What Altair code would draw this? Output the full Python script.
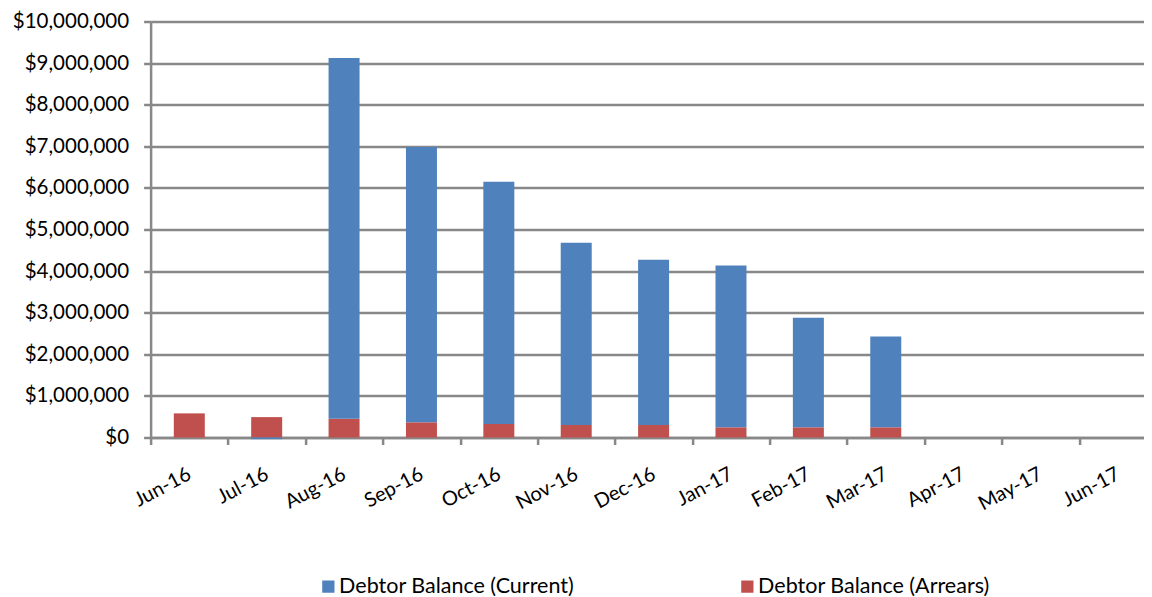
import altair as alt
import pandas as pd

months = ["Jun-16", "Jul-16", "Aug-16", "Sep-16", "Oct-16", "Nov-16", "Dec-16",
          "Jan-17", "Feb-17", "Mar-17", "Apr-17", "May-17", "Jun-17"]
current = [0, -40000, 8670000, 6620000, 5820000, 4380000, 3970000,
           3890000, 2635000, 2180000, 0, 0, 0]
arrears = [580000, 490000, 450000, 365000, 325000, 300000, 300000,
           245000, 245000, 245000, 0, 0, 0]
series_names = ["Debtor Balance (Current)", "Debtor Balance (Arrears)"]
colors = ["#4F81BD", "#C0504D"]
y_ticks = [0, 1000000, 2000000, 3000000, 4000000, 5000000, 6000000,
           7000000, 8000000, 9000000, 10000000]

rows = []
for i, m in enumerate(months):
    rows.append({"month": m, "series": series_names[1], "value": arrears[i], "ord": 0})
    rows.append({"month": m, "series": series_names[0], "value": current[i], "ord": 1})
df = pd.DataFrame(rows)

FONT = "Lato"
GRAY = "#888888"

chart = alt.Chart(df).mark_bar(width=31).encode(
    x=alt.X("month:N", sort=months,
            scale=alt.Scale(domain=months, paddingInner=0, paddingOuter=0),
            axis=alt.Axis(title=None, labelAngle=-28, labelAlign="right", labelBaseline="middle",
                          labelPadding=28, tickBand="extent", ticks=True, tickSize=7, tickWidth=2.5,
                          tickColor=GRAY, domainColor=GRAY, domainWidth=2.5, grid=False,
                          labelFont=FONT, labelFontSize=20, labelColor="black")),
    y=alt.Y("value:Q", stack="zero",
            scale=alt.Scale(domain=[0, 10000000], nice=False, zero=True),
            axis=alt.Axis(title=None, values=y_ticks, format="$,.0f", labelFont=FONT,
                          labelFontSize=20.5, labelColor="black", labelPadding=15,
                          tickSize=7, tickWidth=2.5, tickColor=GRAY, domainColor=GRAY,
                          domainWidth=2.5, grid=True, gridColor=GRAY, gridWidth=2.5)),
    color=alt.Color("series:N", scale=alt.Scale(domain=series_names, range=colors),
                    legend=alt.Legend(title=None, orient="none", legendX=167, legendY=554,
                                      direction="horizontal", symbolType="square",
                                      symbolSize=150, symbolStrokeWidth=0, labelFont=FONT,
                                      labelFontSize=21.5, labelColor="black", labelOffset=0,
                                      columnPadding=162, labelLimit=400)),
    order=alt.Order("ord:Q", sort="ascending"),
).properties(
    width=1006, height=416,
    autosize=alt.AutoSizeParams(type="none"),
    padding={"left": 142.6, "top": 13.5, "right": -12.6, "bottom": 161},
).configure_view(stroke=None)

chart.save("out.html", embed_options={"renderer": "svg", "actions": False})
